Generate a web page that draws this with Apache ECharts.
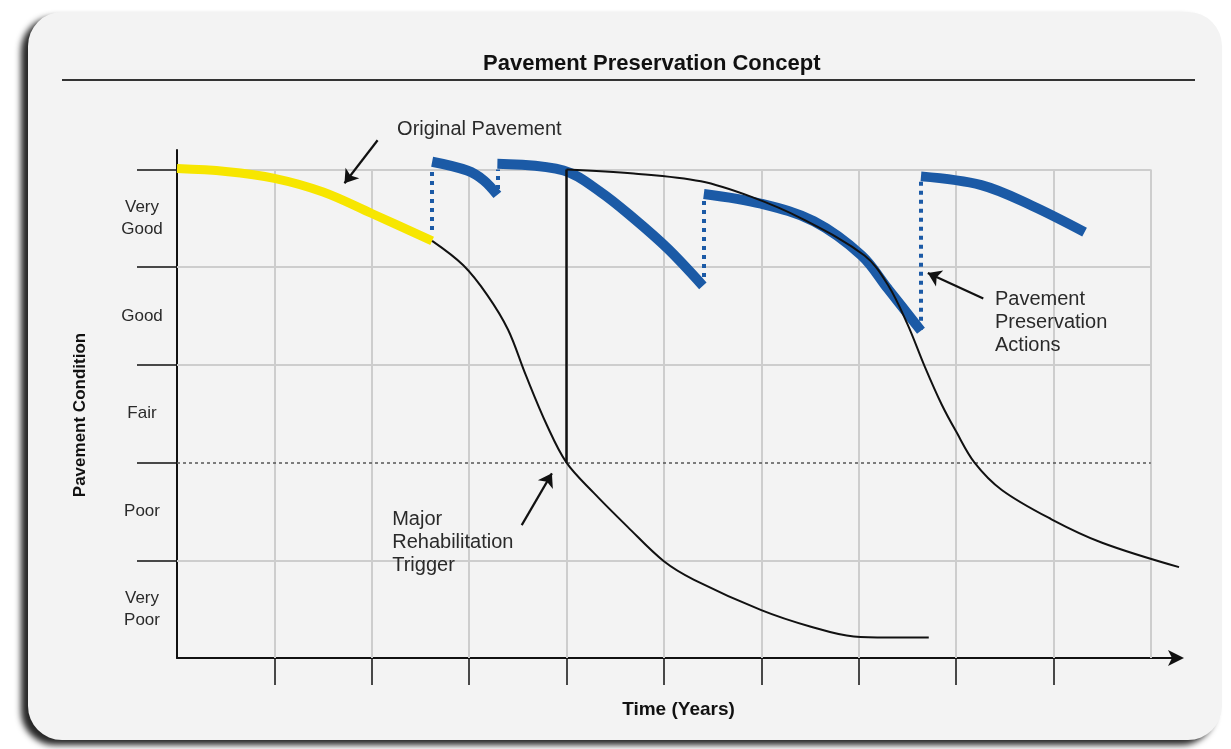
<!DOCTYPE html>
<html>
<head>
<meta charset="utf-8">
<title>Pavement Preservation Concept</title>
<script src="https://cdn.jsdelivr.net/npm/echarts@6/dist/echarts.min.js"></script>
<style>
    html, body { margin: 0; padding: 0; background: #ffffff; }
    #graphChart { width: 1231px; height: 749px; }
</style>
</head>
<body>
<div id="graphChart"></div>
<script>
"use strict";

// condition bands, bottom to top
var conditionLabels = ['Very\nPoor', 'Poor', 'Fair', 'Good', 'Very\nGood'];
var bandCenters = [0.5, 1.5, 2.5, 3.5, 4.5];
var bandEdges = [1, 2, 3, 4, 5];
var yearTicks = [1, 2, 3, 4, 5, 6, 7, 8, 9];
var gridYears = [1, 2, 3, 4, 5, 6, 7, 8, 9, 10];
var triggerLevel = 2;
var rehabYear = 4.0;

// [year, condition]
var originalPavement = [[0, 5.01], [0.5, 4.98], [1.0, 4.91], [1.5, 4.77], [2.0, 4.55], [2.62, 4.27]];

var noTreatment = [
    [2.62, 4.27], [2.94, 4.02], [3.19, 3.71], [3.40, 3.36], [3.58, 2.90], [3.80, 2.38],
    [4.00, 2.00], [4.28, 1.69], [4.63, 1.34], [5.00, 0.99], [5.31, 0.80],
    [6.00, 0.49], [6.51, 0.32], [6.95, 0.22], [7.30, 0.21], [7.72, 0.21]
];

var afterRehab = [
    [4.00, 5.00], [4.69, 4.96], [5.38, 4.88], [5.90, 4.72], [6.41, 4.50],
    [7.06, 4.12], [7.30, 3.82], [7.50, 3.42], [7.68, 2.98], [7.85, 2.60], [8.00, 2.32],
    [8.19, 2.00], [8.47, 1.72], [8.98, 1.42], [9.50, 1.18], [10.29, 0.93]
];

var treatment1 = [[2.62, 5.08], [2.98, 4.99], [3.15, 4.89], [3.29, 4.74]];
var treatment2 = [[3.29, 5.06], [3.97, 4.99], [4.35, 4.77], [4.69, 4.50], [5.04, 4.19], [5.40, 3.81]];
var treatment3 = [[5.41, 4.75], [6.00, 4.65], [6.54, 4.47], [7.03, 4.12], [7.30, 3.78], [7.64, 3.35]];
var treatment4 = [[7.64, 4.93], [8.26, 4.84], [8.78, 4.63], [9.32, 4.36]];

// [year, from condition, to condition]
var treatmentJumps = [[2.62, 4.38, 4.99], [3.29, 4.80, 5.00], [5.41, 3.90, 4.73], [7.64, 3.36, 4.88]];

var annotationTexts = ['Original Pavement', 'Major\nRehabilitation\nTrigger', 'Pavement\nPreservation\nActions'];
var annotationAnchors = [[2.26, 5.41], [2.21, 1.18], [8.40, 3.43]];
var arrowTails = [[2.06, 5.30], [3.54, 1.36], [8.28, 3.68]];
var arrowHeads = [[1.72, 4.86], [3.85, 1.89], [7.71, 3.94]];

var blue = '#1b5aa6';
var yellow = '#f7e600';
var ink = '#111111';
var gridGray = '#cdcdcd';
var font = '"Liberation Sans", Arial, sans-serif';

function curve(name, data, color, width, z) {
    return {
        name: name,
        type: 'line',
        data: data,
        smooth: 0.35,
        showSymbol: false,
        silent: true,
        z: z,
        lineStyle: { color: color, width: width, cap: 'butt' }
    };
}

function segments(name, coordsList, lineStyle, z) {
    lineStyle.opacity = 1;
    return {
        name: name,
        type: 'lines',
        coordinateSystem: 'cartesian2d',
        silent: true,
        clip: false,
        z: z,
        symbol: 'none',
        lineStyle: lineStyle,
        data: coordsList.map(function (c) { return { coords: c }; })
    };
}

function setupGraph() {
    var chart = echarts.init(document.getElementById('graphChart'));

    var verticals = gridYears.map(function (x) { return [[x, 0], [x, 5]]; });
    var horizontals = bandEdges.filter(function (y) { return y !== triggerLevel; })
        .map(function (y) { return [[0, y], [10, y]]; });

    var options = {
        animation: false,
        title: {
            text: 'Pavement Preservation Concept',
            left: 478,
            top: 48,
            textStyle: { fontFamily: font, fontWeight: 'bold', fontSize: 22, color: '#111' }
        },
        graphic: [{
            type: 'rect',
            z: -10,
            shape: { x: 28, y: 12, width: 1194, height: 728, r: 34 },
            style: {
                fill: '#f3f3f3',
                shadowBlur: 6,
                shadowColor: 'rgba(0,0,0,0.85)',
                shadowOffsetX: -7,
                shadowOffsetY: 5
            }
        }, {
            type: 'line',
            shape: { x1: 62, y1: 80, x2: 1195, y2: 80 },
            style: { stroke: '#333', lineWidth: 2 }
        }],
        grid: { left: 177, right: 51, top: 150, bottom: 91 },
        xAxis: {
            type: 'value',
            min: 0,
            max: 10.3,
            interval: 1,
            name: 'Time (Years)',
            nameLocation: 'middle',
            nameGap: 42,
            nameTextStyle: { fontFamily: font, fontWeight: 'bold', fontSize: 19, color: '#111' },
            axisLine: {
                show: true,
                symbol: ['none', 'arrow'],
                symbolSize: [12, 16],
                symbolOffset: [0, 4],
                lineStyle: { color: ink, width: 2 }
            },
            axisTick: {
                show: true,
                customValues: yearTicks,
                length: 27,
                lineStyle: { color: ink, width: 1.5 }
            },
            axisLabel: { show: false },
            splitLine: { show: false }
        },
        yAxis: {
            type: 'value',
            min: 0,
            max: 5.2,
            interval: 1,
            name: 'Pavement Condition',
            nameLocation: 'middle',
            nameGap: 88,
            nameTextStyle: { fontFamily: font, fontWeight: 'bold', fontSize: 17, color: '#111', padding: [0, 22, 0, 0] },
            axisLine: { show: true, lineStyle: { color: ink, width: 2 } },
            axisTick: {
                show: true,
                customValues: bandEdges,
                length: 40,
                lineStyle: { color: ink, width: 1.5 }
            },
            axisLabel: {
                customValues: bandCenters,
                margin: 35,
                align: 'center',
                fontFamily: font,
                fontSize: 17,
                lineHeight: 22,
                color: '#2a2a2a',
                formatter: function (v) { return conditionLabels[Math.floor(v)]; }
            },
            splitLine: { show: false }
        },
        series: [
            segments('grid', verticals.concat(horizontals), { color: gridGray, width: 2, type: 'solid' }, 1),
            segments('trigger', [[[0, triggerLevel], [10, triggerLevel]]], { color: '#555', width: 1.5, type: [3, 3] }, 1),
            segments('jumps', treatmentJumps.map(function (j) { return [[j[0], j[1]], [j[0], j[2]]]; }),
                { color: blue, width: 4, type: [4, 5] }, 3),
            curve('Preservation 1', treatment1, blue, 10, 4),
            curve('Preservation 2', treatment2, blue, 10, 4),
            curve('Preservation 3', treatment3, blue, 10, 4),
            curve('Preservation 4', treatment4, blue, 10, 4),
            curve('Original Pavement', originalPavement, yellow, 9, 5),
            curve('No treatment', noTreatment, ink, 2, 6),
            curve('After rehabilitation', afterRehab, ink, 2, 6),
            segments('rehab', [[[rehabYear, triggerLevel], [rehabYear, 5]]], { color: ink, width: 2.5, type: 'solid' }, 6),
            {
                name: 'arrows',
                type: 'lines',
                coordinateSystem: 'cartesian2d',
                silent: true,
                clip: false,
                z: 7,
                symbol: ['none', 'arrow'],
                symbolSize: 13,
                lineStyle: { color: ink, width: 2.2, opacity: 1 },
                data: arrowTails.map(function (t, i) { return { coords: [t, arrowHeads[i]] }; })
            },
            {
                name: 'notes',
                type: 'scatter',
                silent: true,
                clip: false,
                z: 7,
                symbolSize: 0,
                itemStyle: { opacity: 1 },
                data: annotationAnchors.map(function (p, i) { return { value: p, name: annotationTexts[i] }; }),
                label: {
                    show: true,
                    position: 'right',
                    distance: 0,
                    formatter: '{b}',
                    fontFamily: font,
                    fontSize: 20,
                    lineHeight: 23,
                    color: '#2a2a2a',
                    align: 'left',
                    verticalAlign: 'middle'
                }
            }
        ]
    };

    chart.setOption(options, { notMerge: true });
}

setupGraph();
</script>
</body>
</html>
